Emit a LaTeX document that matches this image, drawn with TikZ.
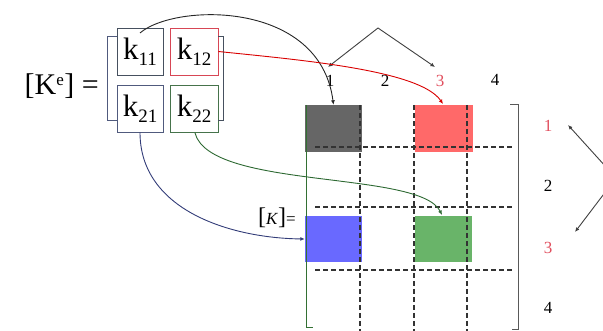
\documentclass[tikz,border=0pt]{standalone}
\usepackage{fontspec}
\setmainfont{Liberation Serif}
\usetikzlibrary{arrows.meta}

\definecolor{cellgray}{RGB}{102,102,102}
\definecolor{cellred}{RGB}{255,105,105}
\definecolor{cellblue}{RGB}{105,105,255}
\definecolor{cellgreen}{RGB}{105,180,105}
\definecolor{labred}{RGB}{225,80,95}
\definecolor{boxgray}{RGB}{70,80,95}
\definecolor{boxred}{RGB}{215,70,85}
\definecolor{boxblue}{RGB}{80,90,125}
\definecolor{boxgreen}{RGB}{70,115,75}
\definecolor{curveblue}{RGB}{50,60,120}
\definecolor{curvegreen}{RGB}{45,105,50}

\tikzset{
  kbox/.style={draw, line width=0.9pt, minimum width=46pt, minimum height=47pt,
    inner sep=0pt, font=\fontsize{31}{31}\selectfont},
  cell/.style={minimum width=57pt, minimum height=47pt, inner sep=0pt},
  idx/.style={font=\fontsize{17}{17}\selectfont, inner sep=0pt},
  grid/.style={dashed, dash pattern=on 5pt off 3pt, line width=1.1pt, black!80},
  link/.style={line width=0.9pt, -{Latex[length=4.5pt,width=4pt]}},
  swap/.style={line width=0.9pt, black!75, {Latex[length=4.5pt,width=4pt]}-{Latex[length=4.5pt,width=4pt]}}
}

\newcommand{\ksub}[1]{k\raisebox{-0.2em}{\fontsize{19}{19}\selectfont #1}}

\begin{document}
\begin{tikzpicture}[x=1pt, y=-1pt]
\useasboundingbox (0,0) rectangle (603,331);
\clip (0,0) rectangle (603,331);

% element matrix
\node[font=\fontsize{30}{30}\selectfont, anchor=east, inner sep=0pt] (ke) at (99,86)
  {[K\textsuperscript{\fontsize{17}{17}\selectfont e}] =};
\node[kbox, draw=boxgray]  (k11) at (140,51.5) {\ksub{11}};
\node[kbox, draw=boxred, minimum width=48pt]   (k12) at (194,51.5) {\ksub{12}};
\node[kbox, draw=boxblue]  (k21) at (140,108.5) {\ksub{21}};
\node[kbox, draw=boxgreen, minimum width=48pt] (k22) at (194,108.5) {\ksub{22}};
\draw[line width=1pt, boxblue] (117,37) -- (107,37) -- (107,121) -- (117,121);
\draw[line width=1pt, boxgray] (218,37) -- (223,37) -- (223,121) -- (218,121);

% global matrix cells
\node[cell, fill=cellgray]  (g11) at (333.5,128.5) {};
\node[cell, fill=cellred, minimum width=58pt] (g13) at (444,128.5) {};
\node[cell, fill=cellblue, minimum height=46pt]  (g31) at (333.5,239) {};
\node[cell, fill=cellgreen, minimum height=46pt] (g33) at (443.5,239) {};

% grid lines
\foreach \gx in {360,414,467} \draw[grid] (\gx,105) -- (\gx,331);
\foreach \gy in {147,207,270} \draw[grid] (315,\gy) -- (512,\gy);

% brackets of the global matrix
\draw[line width=1pt, black!60!green!60!gray] (306,105) -- (306,328) -- (313,328);
\draw[line width=1pt, black!65] (510,105) -- (518,105) -- (518,330) -- (512,330);

\node[font=\fontsize{17}{17}\selectfont, inner sep=0pt] (kg) at (277,218)
  {{\fontsize{24}{24}\selectfont[}\textit{K}{\fontsize{24}{24}\selectfont]}=};

% column and row numbers
\node[idx] (c1) at (330,81) {1};
\node[idx] (c2) at (385,81) {2};
\node[idx, text=labred] (c3) at (440,81) {3};
\node[idx] (c4) at (495,80) {4};
\node[idx, text=labred] (r1) at (548,126) {1};
\node[idx] (r2) at (548,186) {2};
\node[idx, text=labred] (r3) at (548,248) {3};
\node[idx] (r4) at (548,308) {4};

% swap markers
\coordinate (ta) at (328,67);
\coordinate (tp) at (378,28);
\coordinate (tb) at (435,67);
\draw[swap] (ta) -- (tp) -- (tb);
\coordinate (ra) at (568,125);
\coordinate (rp) at (616,178);
\coordinate (rb) at (575,232);
\draw[swap] (ra) -- (rp) -- (rb);

% assembly connectors
\draw[link, black!85] (140,33) .. controls (175,3) and (320,0) .. (g11.north);
\draw[link, red!85!black] (k12.east) .. controls (300,60) and (420,70) .. (443,104);
\draw[link, curveblue] (k21.south) .. controls (140,210) and (230,238) .. (g31.west);
\draw[link, curvegreen] (195,133) .. controls (210,190) and (420,170) .. (442,215);
\end{tikzpicture}
\end{document}
